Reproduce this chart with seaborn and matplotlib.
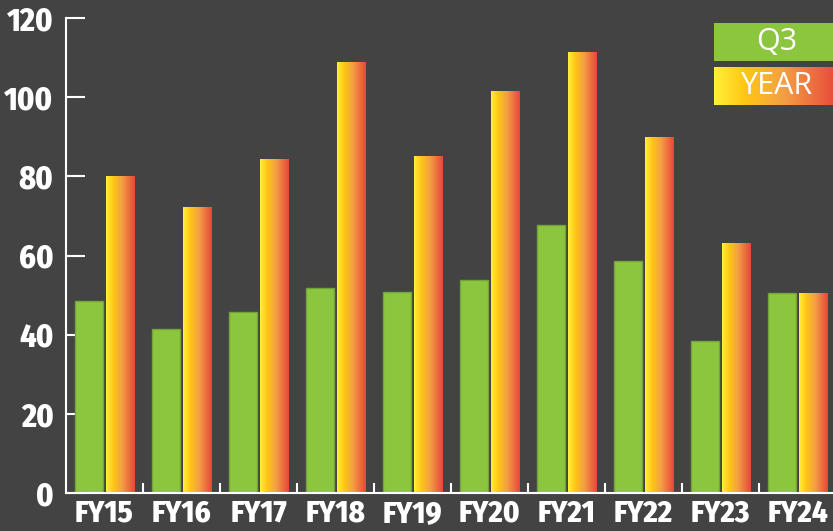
import numpy as np
import pandas as pd
import seaborn as sns
import matplotlib.pyplot as plt
from matplotlib.colors import LinearSegmentedColormap

# values
years = ["FY15", "FY16", "FY17", "FY18", "FY19", "FY20", "FY21", "FY22", "FY23", "FY24"]
q3 = [48.5, 41.4, 45.7, 51.7, 50.8, 53.8, 67.7, 58.5, 38.3, 50.5]
year_total = [80.1, 72.3, 84.4, 108.9, 85.1, 101.6, 111.4, 89.9, 63.2, 50.5]
y_ticks = [0, 20, 40, 60, 80, 100, 120]

BG = "#434343"
GREEN = "#8CC63F"
grad = LinearSegmentedColormap.from_list(
    "yr", [(0.0, "#FFF03A"), (0.25, "#FFC615"), (0.55, "#F3A044"), (1.0, "#E8463B")])
grad_img = np.linspace(0, 1, 256).reshape(1, -1)

df = pd.DataFrame({"Year": years * 2,
                   "Series": ["Q3"] * len(years) + ["YEAR"] * len(years),
                   "Value": q3 + year_total})

sns.set_style("dark")
tick_font = ["Fira Sans Condensed", "Open Sans Condensed", "DejaVu Sans"]
legend_font = ["Open Sans", "DejaVu Sans"]

fig = plt.figure(figsize=(8.33, 5.31), dpi=100, facecolor=BG)
ax = fig.add_axes([66 / 833, 38 / 531, 770 / 833, 475 / 531])
ax.set_facecolor(BG)

sns.barplot(data=df, x="Year", y="Value", hue="Series", palette=[GREEN, "#F5A040"],
            width=0.8, gap=0.08, ax=ax, legend=False, saturation=1)

for bar in ax.containers[0]:
    bar.set_edgecolor("#74A33A")
    bar.set_linewidth(1)

# gradient fill for the YEAR bars
for bar in ax.containers[1]:
    x, w, h = bar.get_x(), bar.get_width(), bar.get_height()
    bar.set_facecolor("none")
    bar.set_linewidth(0)
    im = ax.imshow(grad_img, cmap=grad, extent=[x, x + w, 0, h], aspect="auto",
                   zorder=bar.get_zorder())
    im.set_clip_path(bar)

ax.set_xlim(-0.5, len(years) - 0.5)
ax.set_ylim(0, 120)
ax.set_yticks(y_ticks)
ax.set_xlabel("")
ax.set_ylabel("")
ax.grid(False)

for side in ["top", "right"]:
    ax.spines[side].set_visible(False)
for side in ["left", "bottom"]:
    ax.spines[side].set_color("white")
    ax.spines[side].set_linewidth(1.5)
    ax.spines[side].set_visible(True)

ax.tick_params(axis="y", direction="in", length=14, width=1.5, color="white",
               labelcolor="white", pad=9, left=True)
ax.tick_params(axis="x", length=0, labelcolor="white", pad=4)
ax.set_xticks(np.arange(len(years)) + 0.5, minor=True)
ax.tick_params(axis="x", which="minor", direction="in", length=7, width=1.5,
               color="white", bottom=True)

for lab in ax.get_yticklabels():
    lab.set_fontfamily(tick_font)
    lab.set_fontweight("heavy")
    lab.set_fontsize(23)
for lab in ax.get_xticklabels():
    lab.set_fontfamily(tick_font)
    lab.set_fontweight("heavy")
    lab.set_fontsize(22)

# legend boxes in the upper right corner
lg1 = fig.add_axes([714 / 833, (531 - 61) / 531, 125 / 833, 38 / 531])
lg1.set_facecolor(GREEN)
lg1.set_xticks([])
lg1.set_yticks([])
for s in lg1.spines.values():
    s.set_visible(False)
lg1.text(0.5, 0.5, "Q3", ha="center", va="center", color="white",
         fontsize=22, family=legend_font, transform=lg1.transAxes)

lg2 = fig.add_axes([714 / 833, (531 - 105) / 531, 125 / 833, 38 / 531])
lg2.imshow(grad_img, cmap=grad, extent=[0, 1, 0, 1], aspect="auto")
lg2.set_xlim(0, 1)
lg2.set_ylim(0, 1)
lg2.set_xticks([])
lg2.set_yticks([])
for s in lg2.spines.values():
    s.set_visible(False)
lg2.text(0.5, 0.5, "YEAR", ha="center", va="center", color="white",
         fontsize=22, family=legend_font, transform=lg2.transAxes)

fig.savefig("out.png", dpi=100, facecolor=BG)
